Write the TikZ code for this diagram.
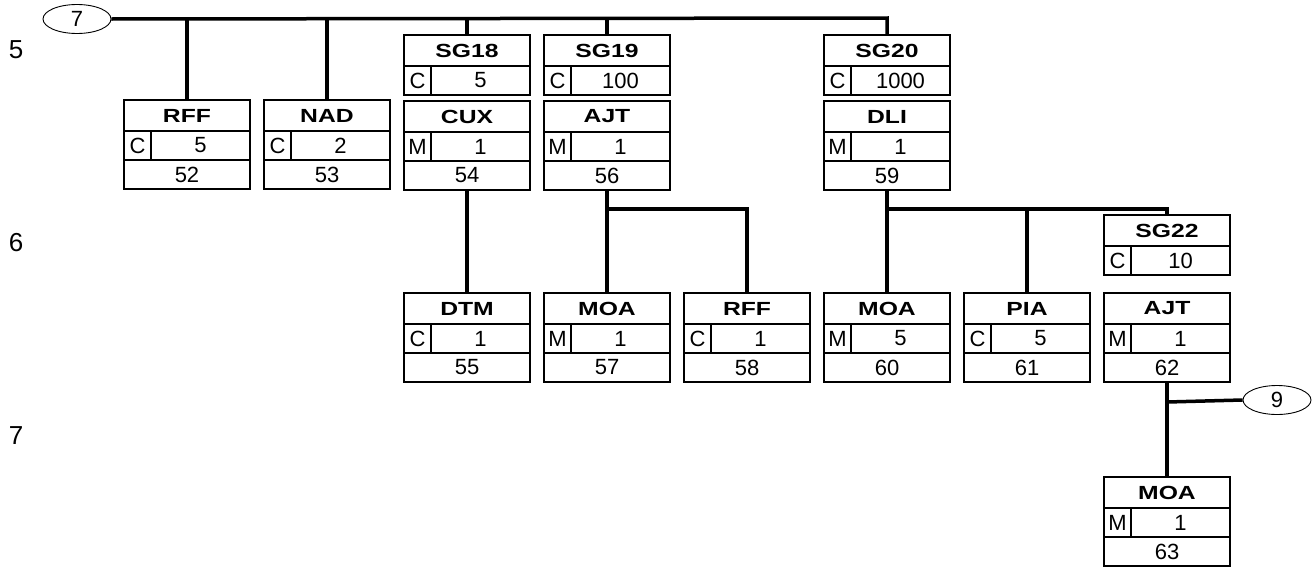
\documentclass[tikz,border=0pt]{standalone}
\usepackage{fontspec}
\setmainfont{Liberation Sans}
\usetikzlibrary{shapes.geometric}
\tikzset{
  segbox/.style={draw, line width=2pt, minimum width=126pt, minimum height=89pt, inner sep=0pt, outer sep=0pt},
  grpbox/.style={draw, line width=2pt, minimum width=126pt, minimum height=60pt, inner sep=0pt, outer sep=0pt},
  inner/.style={line width=2pt},
  conn/.style={line width=3.5pt},
  titletext/.style={font=\fontsize{19}{20}\selectfont\bfseries, inner sep=0pt},
  celltext/.style={font=\fontsize{22}{23}\selectfont, inner sep=0pt},
  lvltext/.style={font=\fontsize{26}{28}\selectfont, inner sep=0pt},
  oval/.style={draw, ellipse, line width=0.9pt, minimum width=68pt, minimum height=29pt, inner sep=0pt, font=\fontsize{22}{23}\selectfont},
}
\newcommand\wide[1]{\scalebox{1.3}[1]{#1}}
\newcommand\segment[7]{%
  \node[segbox, anchor=north] (#1) at (#2,#3) {};
  \draw[inner] ([yshift=-31pt]#1.north west) -- ([yshift=-31pt]#1.north east);
  \draw[inner] ([yshift=-60pt]#1.north west) -- ([yshift=-60pt]#1.north east);
  \draw[inner] ([yshift=-31pt,xshift=27pt]#1.north west) -- ([yshift=-60pt,xshift=27pt]#1.north west);
  \node[titletext] (#1t) at ([yshift=-15.5pt]#1.north) {\wide{#4}};
  \node[celltext] (#1s) at ([yshift=-45.5pt,xshift=13.5pt]#1.north west) {#5};
  \node[celltext] (#1r) at ([yshift=-45.5pt,xshift=13.5pt]#1.north) {#6};
  \node[celltext] (#1n) at ([yshift=14.5pt]#1.south) {#7};
}
\newcommand\group[5]{%
  \node[grpbox, anchor=north] (#1) at (#2,#3) {};
  \draw[inner] ([yshift=-31pt]#1.north west) -- ([yshift=-31pt]#1.north east);
  \draw[inner] ([yshift=-31pt,xshift=27pt]#1.north west) -- ([xshift=27pt]#1.south west);
  \node[titletext] (#1t) at ([yshift=-15.5pt]#1.north) {\wide{#4}};
  \node[celltext] (#1s) at ([yshift=14.5pt,xshift=13.5pt]#1.south west) {C};
  \node[celltext] (#1r) at ([yshift=14.5pt,xshift=13.5pt]#1.south) {#5};
}
\begin{document}
\begin{tikzpicture}[x=1pt, y=-1pt]
\useasboundingbox (0,0) rectangle (1316,573);
% level labels
\node[lvltext] (l5) at (16,50) {5};
\node[lvltext] (l6) at (16,243) {6};
\node[lvltext] (l7) at (16,436) {7};
% ovals
\node[oval] (o7) at (77,19) {7};
\node[oval] (o9) at (1277,400) {9};
% level 5
\segment{rff52}{187}{100}{RFF}{C}{5}{52}
\segment{nad53}{327}{100}{NAD}{C}{2}{53}
\group{sg18}{467}{35}{SG18}{5}
\segment{cux54}{467}{101}{CUX}{M}{1}{54}
\group{sg19}{607}{35}{SG19}{100}
\segment{ajt56}{607}{101}{AJT}{M}{1}{56}
\group{sg20}{887}{35}{SG20}{1000}
\segment{dli59}{887}{101}{DLI}{M}{1}{59}
% level 6
\segment{dtm55}{467}{293}{DTM}{C}{1}{55}
\segment{moa57}{607}{293}{MOA}{M}{1}{57}
\segment{rff58}{747}{293}{RFF}{C}{1}{58}
\segment{moa60}{887}{293}{MOA}{M}{5}{60}
\segment{pia61}{1027}{293}{PIA}{C}{5}{61}
\group{sg22}{1167}{215}{SG22}{10}
\segment{ajt62}{1167}{293}{AJT}{M}{1}{62}
% level 7
\segment{moa63}{1167}{477}{MOA}{M}{1}{63}
% connectors
\coordinate (t20) at (887,18);
\draw[conn] (o7.east) -- (t20) -- (sg20.north);
\draw[conn] (rff52.north) -- (rff52.north |- t20);
\draw[conn] (nad53.north) -- (nad53.north |- t20);
\draw[conn] (sg18.north) -- (sg18.north |- t20);
\draw[conn] (sg19.north) -- (sg19.north |- t20);
\draw[conn] (cux54.south) -- (dtm55.north);
\coordinate (j56) at (607,209);
\draw[conn] (ajt56.south) -- (moa57.north);
\draw[conn] (j56) -| (rff58.north);
\coordinate (j59) at (887,209);
\draw[conn] (dli59.south) -- (moa60.north);
\draw[conn] (j59) -| (sg22.north);
\draw[conn] (pia61.north) -- (pia61.north |- j59);
\coordinate (j62) at (1167,402);
\draw[conn] (ajt62.south) -- (moa63.north);
\draw[conn] (j62) -- (o9.west);
\end{tikzpicture}
\end{document}
